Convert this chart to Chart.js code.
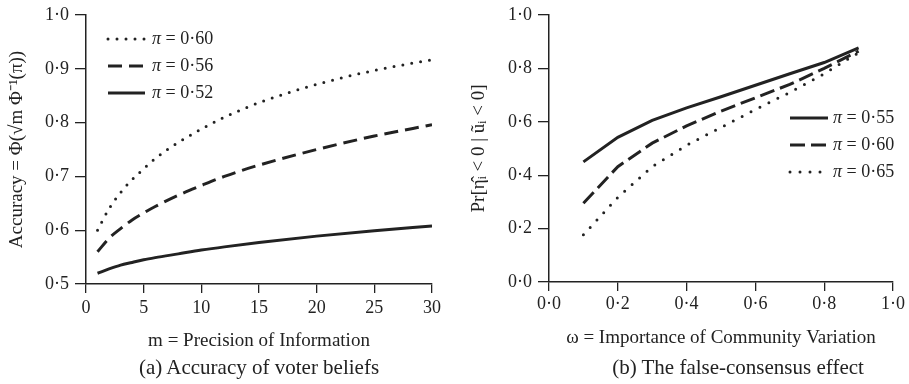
<!DOCTYPE html>
<html><head><meta charset="utf-8">
<script src="https://cdn.jsdelivr.net/npm/chart.js@4"></script>
<style>
body{margin:0;background:#fff;width:909px;height:384px;overflow:hidden;position:relative;font-family:'Liberation Serif',serif;color:#222;}
#c1{position:absolute;left:0;top:0;}
#c2{position:absolute;left:450px;top:0;}
.cap{position:absolute;top:355px;font-size:21px;line-height:24px;white-space:nowrap;transform:translateX(-50%);}
</style></head><body>
<canvas id="c1" width="450" height="384"></canvas>
<canvas id="c2" width="459" height="384"></canvas>
<div class="cap" style="left:259px">(a) Accuracy of voter beliefs</div>
<div class="cap" style="left:738px">(b) The false-consensus effect</div>
<script>
// ---- Panel (a) data ----
const mValues = [1, 2, 3, 4, 5, 6, 8, 10, 12, 15, 20, 25, 30];
const acc060 = [0.600, 0.640, 0.670, 0.694, 0.714, 0.733, 0.763, 0.788, 0.810, 0.837, 0.871, 0.897, 0.917];
const acc056 = [0.560, 0.585, 0.603, 0.619, 0.632, 0.644, 0.665, 0.683, 0.700, 0.721, 0.750, 0.775, 0.796];
const acc052 = [0.520, 0.528, 0.535, 0.540, 0.545, 0.549, 0.556, 0.563, 0.569, 0.577, 0.589, 0.599, 0.608];
const labelsA = ['0·60', '0·56', '0·52'];
const xTicksA = [0, 5, 10, 15, 20, 25, 30];
const yTicksA = [0.5, 0.6, 0.7, 0.8, 0.9, 1.0];

// ---- Panel (b) data ----
const omega = [0.1, 0.2, 0.3, 0.4, 0.5, 0.6, 0.7, 0.8, 0.9];
const pr055 = [0.450, 0.542, 0.605, 0.652, 0.694, 0.737, 0.780, 0.822, 0.877];
const pr060 = [0.295, 0.432, 0.520, 0.585, 0.640, 0.690, 0.740, 0.800, 0.865];
const pr065 = [0.177, 0.317, 0.432, 0.512, 0.579, 0.646, 0.710, 0.780, 0.859];
const labelsB = ['0·55', '0·60', '0·65'];
const xTicksB = [0, 0.2, 0.4, 0.6, 0.8, 1.0];
const yTicksB = [0, 0.2, 0.4, 0.6, 0.8, 1.0];

const INK = '#222';
const FONT = "'Liberation Serif', serif";
const fmt = v => v.toFixed(1).replace('.', '·');
const zip = (xs, ys) => xs.map((x, i) => ({x, y: ys[i]}));

const STY = {
  dotted: {borderDash: [0, 9], borderCapStyle: 'round', borderWidth: 3},
  dashed: {borderDash: [14, 7], borderCapStyle: 'butt', borderWidth: 3},
  solid:  {borderDash: [], borderCapStyle: 'butt', borderWidth: 3}
};

const legendPlugin = {
  id: 'inlineLegend',
  afterDatasetsDraw(chart) {
    const o = chart.options.plugins.inlineLegend;
    if (!o) return;
    const ctx = chart.ctx;
    chart.data.datasets.forEach((ds, i) => {
      const y = o.y0 + i * o.dy;
      ctx.save();
      ctx.strokeStyle = INK;
      ctx.lineWidth = ds.borderWidth;
      ctx.lineCap = ds.borderCapStyle;
      ctx.setLineDash(ds.borderDash);
      ctx.beginPath();
      ctx.moveTo(o.x0, y);
      ctx.lineTo(o.x1, y);
      ctx.stroke();
      ctx.setLineDash([]);
      ctx.fillStyle = INK;
      ctx.textBaseline = 'middle';
      ctx.font = 'italic 18px ' + FONT;
      ctx.fillText('π', o.tx, y);
      const w = ctx.measureText('π').width;
      ctx.font = '18px ' + FONT;
      ctx.fillText(' = ' + ds.label, o.tx + w, y);
      ctx.restore();
    });
  }
};

function axes(cfg) {
  const tickFont = {family: FONT, size: 18, lineHeight: 1};
  return {
    x: {
      type: 'linear', min: cfg.xmin, max: cfg.xmax,
      afterBuildTicks: s => { s.ticks = cfg.xt.map(v => ({value: v})); },
      ticks: {color: INK, font: tickFont, padding: cfg.xpad, maxRotation: 0,
              callback: cfg.xfmt},
      grid: {drawOnChartArea: false, drawTicks: true, tickLength: 9, color: INK, lineWidth: 1.3},
      border: {display: true, color: INK, width: 1.5},
      title: {display: true, text: cfg.xtitle, color: INK,
              font: {family: FONT, size: 19, lineHeight: 1.2},
              padding: {top: 0, bottom: cfg.xtpad}},
      afterFit: s => { s.height = cfg.xh; }
    },
    y: {
      type: 'linear', min: cfg.ymin, max: cfg.ymax,
      afterBuildTicks: s => { s.ticks = cfg.yt.map(v => ({value: v})); },
      ticks: {color: INK, font: tickFont, padding: 6, callback: v => fmt(v)},
      grid: {drawOnChartArea: false, drawTicks: true, tickLength: 11, color: INK, lineWidth: 1.3},
      border: {display: true, color: INK, width: 1.5},
      title: {display: true, text: cfg.ytitle, color: INK,
              font: {family: FONT, size: 19, lineHeight: 1.2},
              padding: {top: cfg.ytpad, bottom: 0}},
      afterFit: s => { s.width = cfg.yw; }
    }
  };
}

new Chart(document.getElementById('c1'), {
  type: 'line',
  data: {datasets: [
    Object.assign({label: labelsA[0], data: zip(mValues, acc060)}, STY.dotted),
    Object.assign({label: labelsA[1], data: zip(mValues, acc056)}, STY.dashed),
    Object.assign({label: labelsA[2], data: zip(mValues, acc052)}, STY.solid)
  ].map(d => Object.assign(d, {borderColor: INK, pointRadius: 0, fill: false, cubicInterpolationMode: 'monotone'}))},
  options: {
    responsive: false, animation: false,
    layout: {padding: {left: 0, top: 11, right: 18, bottom: 0}},
    plugins: {legend: {display: false}, tooltip: {enabled: false},
      inlineLegend: {x0: 108, x1: 145, tx: 152, y0: 39, dy: 27}},
    scales: axes({xmin: 0, xmax: 30, xt: xTicksA, xfmt: v => String(v), xpad: 6,
      xtitle: 'm = Precision of Information', xtpad: 31.5, xh: 100,
      ymin: 0.5, ymax: 1.0, yt: yTicksA,
      ytitle: 'Accuracy = Φ(√m Φ⁻¹(π))', ytpad: 5.5, yw: 86})
  },
  plugins: [legendPlugin]
});

new Chart(document.getElementById('c2'), {
  type: 'line',
  data: {datasets: [
    Object.assign({label: labelsB[0], data: zip(omega, pr055)}, STY.solid),
    Object.assign({label: labelsB[1], data: zip(omega, pr060)}, STY.dashed, {borderDash: [15, 6]}),
    Object.assign({label: labelsB[2], data: zip(omega, pr065)}, STY.dotted, {borderDash: [0, 10]})
  ].map(d => Object.assign(d, {borderColor: INK, pointRadius: 0, fill: false, tension: 0}))},
  options: {
    responsive: false, animation: false,
    layout: {padding: {left: 0, top: 9, right: 15, bottom: 0}},
    plugins: {legend: {display: false}, tooltip: {enabled: false},
      inlineLegend: {x0: 340, x1: 378, tx: 383, y0: 118, dy: 27}},
    scales: axes({xmin: 0, xmax: 1, xt: xTicksB, xfmt: v => fmt(v), xpad: 4,
      xtitle: 'ω = Importance of Community Variation', xtpad: 34.5, xh: 102,
      ymin: 0, ymax: 1.0, yt: yTicksB,
      ytitle: 'Pr[η̂ᵢ < 0 | ũᵢ < 0]', ytpad: 17.5, yw: 99})
  },
  plugins: [legendPlugin]
});
</script>
</body></html>
